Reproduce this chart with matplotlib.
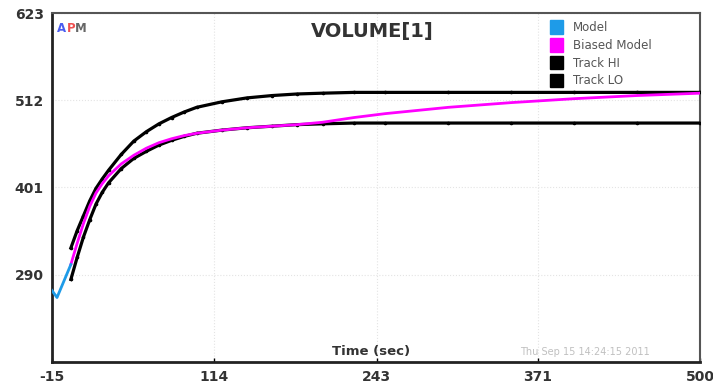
import matplotlib.pyplot as plt
from matplotlib.patches import Patch

# time points (sec)
t_model = [-15, -11, 0]
model = [270, 261, 303]

t = [0, 5, 10, 15, 20, 25, 30, 40, 50, 60, 70, 80, 90, 100,
     120, 140, 160, 180, 200, 225, 250, 300, 350, 400, 450, 500]
biased = [303, 330, 355, 377, 394, 406, 416, 431, 442, 451, 458, 463, 467, 470,
          474, 477, 479, 481, 484, 490, 495, 503, 509, 514, 518, 521]
track_hi = [324, 346, 365, 384, 400, 412, 423, 443, 460, 472, 482, 490, 497, 503,
            510, 515, 518, 520, 521, 522, 522, 522, 522, 522, 522, 522]
track_lo = [284, 312, 338, 360, 380, 395, 407, 425, 438, 447, 455, 461, 466, 470,
            474, 477, 479, 481, 482, 483, 483, 483, 483, 483, 483, 483]

xticks = [-15, 114, 243, 371, 500]
yticks = [290, 401, 512, 623]

blue = '#1e9be8'
magenta = '#ff00ff'

fig = plt.figure(figsize=(7.13, 3.86), dpi=100)
ax = fig.add_axes([0.0729, 0.0622, 0.9089, 0.9041])

ax.plot(t, track_hi, color='black', lw=2.3, marker='o', ms=1.6, zorder=3)
ax.plot(t, track_lo, color='black', lw=2.3, marker='o', ms=1.6, zorder=3)
ax.plot(t, biased, color=magenta, lw=2.0, zorder=4)
ax.plot(t_model, model, color=blue, lw=2.0, zorder=4)

ax.set_xlim(-15, 500)
ax.set_ylim(179, 623)
ax.set_xticks(xticks)
ax.set_yticks(yticks)
ax.set_xticklabels([str(v) for v in xticks], fontweight='bold', color='#333333', fontsize=10)
ax.set_yticklabels([str(v) for v in yticks], fontweight='bold', color='#333333', fontsize=10)
ax.tick_params(axis='both', direction='in', length=3, width=1, pad=6)
ax.tick_params(axis='y', length=0)
ax.grid(True, color='#e4e4e4', linestyle=':', linewidth=0.8)

for side in ['left', 'bottom']:
    ax.spines[side].set_linewidth(2.0)
    ax.spines[side].set_color('#222222')
for side in ['top', 'right']:
    ax.spines[side].set_linewidth(1.5)
    ax.spines[side].set_color('#555555')

ax.text(0.494, 0.947, 'VOLUME[1]', transform=ax.transAxes, ha='center', va='center',
        fontsize=14, fontweight='bold', color='#333333')
ax.text(0.008, 0.955, 'A', transform=ax.transAxes, ha='left', va='center',
        fontsize=8.5, fontweight='bold', color='#4a5cf0')
ax.text(0.023, 0.955, 'P', transform=ax.transAxes, ha='left', va='center',
        fontsize=8.5, fontweight='bold', color='#f05050')
ax.text(0.036, 0.955, 'M', transform=ax.transAxes, ha='left', va='center',
        fontsize=8.5, fontweight='bold', color='#666666')

ax.text(0.493, 0.03, 'Time (sec)', transform=ax.transAxes, ha='center', va='center',
        fontsize=9.5, fontweight='bold', color='#333333')
ax.text(0.822, 0.03, 'Thu Sep 15 14:24:15 2011', transform=ax.transAxes, ha='center',
        va='center', fontsize=7, color='#c0c0c0')

handles = [Patch(color=blue), Patch(color=magenta), Patch(color='black'), Patch(color='black')]
labels = ['Model', 'Biased Model', 'Track HI', 'Track LO']
leg = ax.legend(handles, labels, loc='upper left', bbox_to_anchor=(0.757, 1.0),
                frameon=False, fontsize=8.5, handlelength=1.1, handleheight=1.4,
                handletextpad=0.9, labelspacing=0.35, borderaxespad=0.2)
for txt in leg.get_texts():
    txt.set_color('#555555')

plt.savefig('out.png', dpi=100)
